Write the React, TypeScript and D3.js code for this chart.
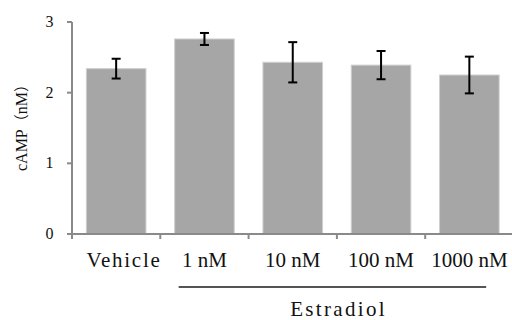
import React, { useEffect, useRef } from 'react';
import * as d3 from 'd3';

const categories = ['Vehicle', '1 nM', '10 nM', '100 nM', '1000 nM'];
const means = [2.34, 2.76, 2.43, 2.39, 2.25];
const errors = [0.14, 0.085, 0.285, 0.2, 0.26];
const yTicks = [0, 1, 2, 3];
const groupLabel = 'Estradiol';
const yTitle = ['cAMP', '（nM）'];

// half-width serif look: spread each label to a fixed width per char
const charW = 10.6;

function monoText(sel: any, str: string, cx: number, base: number) {
  const t = sel.append('text')
    .attr('x', cx)
    .attr('y', base)
    .attr('text-anchor', 'middle')
    .attr('font-family', '"Liberation Serif", serif')
    .attr('font-size', 21)
    .attr('fill', '#111')
    .text(str);
  const natural = (t.node() as SVGTextElement).getComputedTextLength();
  const target = str.length * charW - 1;
  if (natural < target) t.attr('textLength', target).attr('lengthAdjust', 'spacing');
}

export default function App() {
  const ref = useRef<SVGSVGElement>(null);

  useEffect(() => {
    const width = 512;
    const height = 320;
    const svg = d3.select(ref.current);
    svg.selectAll('*').remove();
    svg.attr('width', width).attr('height', height);

    const y = d3.scaleLinear().domain([0, 3]).range([234, 22]);
    const x = d3
      .scaleBand()
      .domain(categories)
      .range([72, 513.5])
      .paddingInner(0.325)
      .paddingOuter(0.1625);
    const step = x.step();
    const gap = (step - x.bandwidth()) / 2;
    const axisColor = '#8a8a8a';

    // bars
    svg.selectAll('.bar')
      .data(categories)
      .enter()
      .append('rect')
      .attr('x', (d) => x(d)!)
      .attr('y', (d, i) => y(means[i]))
      .attr('width', x.bandwidth())
      .attr('height', (d, i) => y(0) - y(means[i]))
      .attr('fill', '#a6a6a6')
      .attr('stroke', '#cfcfcf')
      .attr('stroke-width', 1);

    // error bars
    const eb = svg.selectAll('.err').data(categories).enter().append('g');
    const cx = (d: string) => x(d)! + x.bandwidth() / 2;
    eb.append('line')
      .attr('x1', cx).attr('x2', cx)
      .attr('y1', (d, i) => y(means[i] + errors[i]))
      .attr('y2', (d, i) => y(means[i] - errors[i]))
      .attr('stroke', '#000').attr('stroke-width', 2);
    [1, -1].forEach((s) => {
      eb.append('line')
        .attr('x1', (d) => cx(d) - 4.5).attr('x2', (d) => cx(d) + 4.5)
        .attr('y1', (d, i) => y(means[i] + s * errors[i]))
        .attr('y2', (d, i) => y(means[i] + s * errors[i]))
        .attr('stroke', '#000').attr('stroke-width', 2);
    });

    // y axis
    svg.append('line')
      .attr('x1', 72).attr('x2', 72).attr('y1', y(3)).attr('y2', y(0))
      .attr('stroke', axisColor).attr('stroke-width', 2);
    svg.selectAll('.ytick').data(yTicks).enter().append('line')
      .attr('x1', 67).attr('x2', 72)
      .attr('y1', (d) => y(d)).attr('y2', (d) => y(d))
      .attr('stroke', axisColor).attr('stroke-width', 2);
    svg.selectAll('.ylab').data(yTicks).enter().append('text')
      .attr('x', 53.5).attr('y', (d) => y(d) + 5)
      .attr('text-anchor', 'end')
      .attr('font-family', '"Liberation Serif", serif')
      .attr('font-size', 16)
      .attr('fill', '#111')
      .text((d) => d);
    const title = svg.append('text')
      .attr('transform', 'translate(26.5,124) rotate(-90)')
      .attr('text-anchor', 'middle')
      .attr('font-family', '"Liberation Serif", serif')
      .attr('font-size', 16)
      .attr('fill', '#111');
    title.append('tspan').text(yTitle[0]);
    title.append('tspan')
      .attr('font-family', '"Noto Sans CJK SC", sans-serif')
      .attr('font-size', 15)
      .text(yTitle[1].slice(0, 1));
    title.append('tspan').text(yTitle[1].slice(1, -1));
    title.append('tspan')
      .attr('font-family', '"Noto Sans CJK SC", sans-serif')
      .attr('font-size', 15)
      .text(yTitle[1].slice(-1));

    // x axis
    svg.append('line')
      .attr('x1', 71).attr('x2', width).attr('y1', y(0)).attr('y2', y(0))
      .attr('stroke', axisColor).attr('stroke-width', 2);
    svg.selectAll('.xtick').data(categories).enter().append('line')
      .attr('x1', (d) => x(d)! - gap).attr('x2', (d) => x(d)! - gap)
      .attr('y1', y(0)).attr('y2', y(0) + 5)
      .attr('stroke', axisColor).attr('stroke-width', 2);
    categories.forEach((d) => {
      monoText(svg, d, cx(d) + (d === 'Vehicle' ? 7 : 0), 267);
    });

    // group bracket
    const lx1 = x(categories[1])! + 4;
    const lx2 = x(categories[4])! + x.bandwidth() - 13;
    svg.append('line')
      .attr('x1', lx1).attr('x2', lx2)
      .attr('y1', 287).attr('y2', 287)
      .attr('stroke', '#555').attr('stroke-width', 2);
    monoText(svg, groupLabel, (lx1 + lx2) / 2 + 5, 316);
  }, []);

  return (
    <div>
      <svg ref={ref} style={{ position: 'absolute', left: 0, top: 0, background: '#fff' }}></svg>
    </div>
  );
}
